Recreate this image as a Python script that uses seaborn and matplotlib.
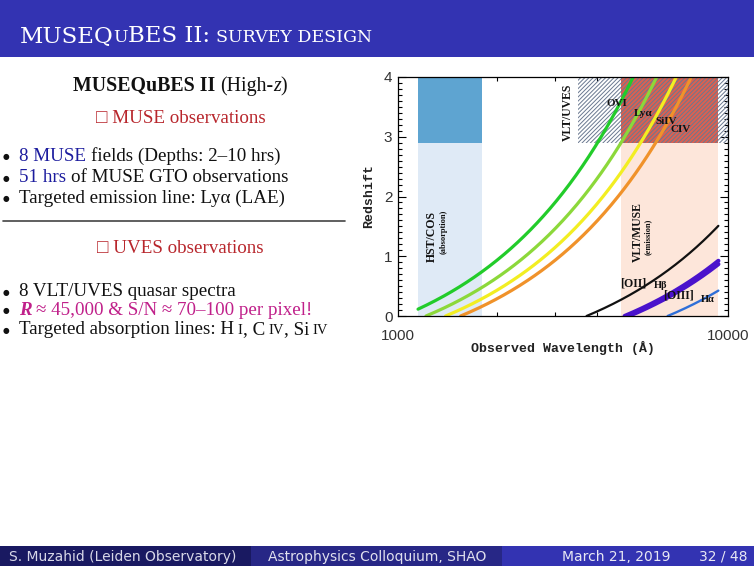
import numpy as np
import pandas as pd
import matplotlib
matplotlib.use("Agg")
import matplotlib.pyplot as plt
import matplotlib.ticker as mticker
from matplotlib.patches import Rectangle
import seaborn as sns

# ---------------- data ----------------
line_names = ["OVI", "Lya", "SiIV", "CIV", "[OII]", "Hb", "[OIII]", "Ha"]
rest_wl = [1031.9, 1215.7, 1393.8, 1548.2, 3727.0, 4861.3, 5006.8, 6562.8]
obs_start = [1150.0, 1215.7, 1393.8, 1548.2, 3727.0, 4861.3, 5006.8, 6562.8]
obs_end = [5160.0, 6080.0, 6970.0, 7745.0, 9350.0, 9350.0, 9350.0, 9350.0]
line_colors = ["#22cc2a", "#8cd83a", "#f2ee22", "#f0922a", "#111111", "#4a12cc", "#4a12cc", "#2f6fd8"]
line_widths = [2.3, 2.3, 2.3, 2.3, 1.6, 3.0, 3.0, 1.7]

# instrument coverage (wavelength range, redshift range)
hst_wl = [1150, 1800]
uves_wl = [3500, 10000]
muse_wl = [4750, 9350]
z_split = 2.9
z_top = 4.0

x_ticks = [1000, 10000]
x_ticklabels = ["1000", "10000"]
y_ticks = [0, 1, 2, 3, 4]

W, H = 754, 566
sns.set_theme(style="white")
plt.rcParams["hatch.linewidth"] = 0.7
plt.rcParams["font.family"] = ["Liberation Serif", "DejaVu Serif", "DejaVu Sans"]

fig = plt.figure(figsize=(W / 100, H / 100), dpi=100)
fig.patch.set_facecolor("white")

def fx(x):
    return x / W

def fy(y):
    return 1 - y / H

# ---------------- header / footer bands ----------------
fig.patches.append(Rectangle((0, fy(57)), 1, 57 / H, transform=fig.transFigure,
                             facecolor="#3333b2", edgecolor="none", zorder=0))
foot_h = 20
foot_cols = ["#191961", "#272786", "#3333b2"]
foot_x = [0, 251, 502, 754]
for i in range(3):
    fig.patches.append(Rectangle((fx(foot_x[i]), 0), (foot_x[i + 1] - foot_x[i]) / W, foot_h / H,
                                 transform=fig.transFigure, facecolor=foot_cols[i],
                                 edgecolor="none", zorder=0))

# ---------------- chart ----------------
ax = fig.add_axes([fx(398), fy(316), 330 / W, (316 - 77) / H])
ax.set_xscale("log")
ax.set_xlim(1000, 10000)
ax.set_ylim(0, 4)

# coverage regions
ax.fill_between(hst_wl, 0, z_split, color="#dfeaf6", lw=0, zorder=1)
ax.fill_between(hst_wl, z_split, z_top, color="#5ea4d1", lw=0, zorder=1)
ax.fill_between(muse_wl, 0, z_split, color="#fde6da", lw=0, zorder=1)
ax.fill_between(muse_wl, z_split, z_top, color="#dc6050", lw=0, zorder=1)
ax.fill_between(uves_wl, z_split, z_top, facecolor="none", edgecolor="#6a7890",
                hatch="////////", lw=0, zorder=2)

# redshift tracks
rows = []
for name, lam0, a, b in zip(line_names, rest_wl, obs_start, obs_end):
    wl = np.geomspace(a, b, 200)
    rows.append(pd.DataFrame({"wl": wl, "z": wl / lam0 - 1, "line": name}))
df = pd.concat(rows, ignore_index=True)
for name, c, lw in zip(line_names, line_colors, line_widths):
    sns.lineplot(data=df[df["line"] == name], x="wl", y="z", color=c, lw=lw,
                 ax=ax, legend=False, zorder=3, sort=False)

# axes cosmetics
for s in ax.spines.values():
    s.set_color("black")
    s.set_linewidth(0.9)
    s.set_zorder(5)
ax.set_xticks(x_ticks)
ax.set_xticklabels(x_ticklabels)
ax.xaxis.set_minor_locator(mticker.LogLocator(base=10, subs=np.arange(2, 10)))
ax.xaxis.set_minor_formatter(mticker.NullFormatter())
ax.set_yticks(y_ticks)
ax.yaxis.set_minor_locator(mticker.MultipleLocator(0.1))
ax.tick_params(which="both", direction="in", top=True, right=True, bottom=True, left=True,
               color="black", width=0.8)
ax.tick_params(which="major", length=6)
ax.tick_params(which="minor", length=3)
ax.tick_params(axis="x", which="major", pad=9, length=0)
ax.tick_params(axis="y", which="major", pad=4)
for lab in ax.get_xticklabels() + ax.get_yticklabels():
    lab.set_fontfamily("Liberation Sans")
    lab.set_fontsize(11)
    lab.set_color("#333333")
ax.set_xlabel("Observed Wavelength (Å)", fontfamily="Liberation Mono", fontweight="bold",
              fontsize=9.5, color="#222222")
ax.set_ylabel("Redshift", fontfamily="Liberation Mono", fontweight="bold",
              fontsize=9.5, color="#222222")
ax.xaxis.set_label_coords((563 - 398) / 330, -(348 - 316) / 239)
ax.yaxis.set_label_coords(-(398 - 369) / 330, 0.5)
ax.xaxis.label.set_va("center")
ax.yaxis.label.set_va("center")

def px2data(x, y):
    return 1000 * 10 ** ((x - 398) / 330), (316 - y) / (239 / 4)

lab_kw = dict(fontfamily="Liberation Serif", fontweight="bold", color="#111111",
              ha="center", va="center", zorder=6)
inner_labels = [("OVI", 617, 103, 8), ("Ly\u03b1", 643, 113, 8), ("SiIV", 666, 121, 8),
                ("CIV", 681, 130, 8), ("[OII]", 633, 284, 8.5), ("H\u03b2", 661, 285, 7.5),
                ("[OIII]", 678, 296, 8.5), ("H\u03b1", 708, 299, 7.5)]
for s, x, y, fs in inner_labels:
    ax.text(*px2data(x, y), s, fontsize=fs, **lab_kw)

rot_labels = [("VLT/UVES", 568, 112, 8.5), ("HST/COS", 432, 236, 8.5), ("(absorption)", 443.5, 232, 6),
              ("VLT/MUSE", 638, 232, 8.5), ("(emission)", 648, 237, 6)]
for s, x, y, fs in rot_labels:
    ax.text(*px2data(x, y), s, fontsize=fs, rotation=90, **lab_kw)

# ---------------- rich text helper ----------------
fig.canvas.draw()
R = fig.canvas.get_renderer()

def measure(s, kw):
    t1 = fig.text(0, 0, "|" + s + "|", **kw)
    t2 = fig.text(0, 0, "||", **kw)
    w = t1.get_window_extent(R).width - t2.get_window_extent(R).width
    t1.remove()
    t2.remove()
    return w

def rich(x, y, pieces, ha="left"):
    widths = [measure(s, kw) for s, kw in pieces]
    total = sum(widths)
    if ha == "center":
        x = x - total / 2
    for (s, kw), w in zip(pieces, widths):
        lead = len(s) - len(s.lstrip(" "))
        xo = x + (measure(" " * lead, kw) if lead else 0)
        if s.strip():
            fig.text(fx(xo), fy(y), s.strip(), ha="left", va="baseline", **kw)
        x += w

# header title (small caps emulation)
hfam = ["DejaVu Serif"]
big = dict(fontsize=16.5, color="white", family=hfam)
small = dict(fontsize=12.5, color="white", family=hfam)
rich(20, 42.5, [("MUSEQ", big), ("U", small), ("BES II:", big), (" SURVEY DESIGN", small)])

# left panel
fs = 13.7
blk = dict(fontsize=fs, color="#111111")
blue = dict(fontsize=fs, color="#1c1c9e")
red = dict(fontsize=fs, color="#b8262c", family=["Liberation Serif", "DejaVu Sans"])
mag = dict(fontsize=fs, color="#c0208a")
magb = dict(fontsize=fs, color="#c0208a", fontweight="bold", fontstyle="italic")
sm = dict(fontsize=10.5, color="#111111")

rich(180, 91, [("MUSEQuBES II", dict(fontsize=14.3, color="#111111", fontweight="bold")),
               (" (High-", dict(fontsize=14.3, color="#111111")),
               ("z", dict(fontsize=14.3, color="#111111", fontstyle="italic")),
               (")", dict(fontsize=14.3, color="#111111"))], ha="center")
rich(181, 123, [("\u25a1 MUSE observations", red)], ha="center")

def bullet(y, pieces):
    fig.text(fx(3), fy(y - 1.5), "\u25cf", ha="left", va="baseline", fontsize=5.5, color="#111111",
             family=["DejaVu Sans"])
    rich(19, y, pieces)

bullet(161, [("8 MUSE", blue), (" fields (Depths: 2\u201310 hrs)", blk)])
bullet(182, [("51 hrs", blue), (" of MUSE GTO observations", blk)])
bullet(203, [("Targeted emission line: Ly\u03b1 (LAE)", blk)])

fig.lines.append(plt.Line2D([fx(3), fx(345)], [fy(221), fy(221)], transform=fig.transFigure,
                            color="#444444", lw=1.2))

rich(180, 253, [("\u25a1 UVES observations", red)], ha="center")
bullet(296, [("8 VLT/UVES quasar spectra", blk)])
bullet(315, [("R", magb), (" \u2248 45,000 & S/N \u2248 70\u2013100 per pixel!", mag)])
bullet(334, [("Targeted absorption lines: H", blk), (" I", sm), (", C", blk), (" IV", sm),
             (", Si", blk), (" IV", sm)])

# footer
fkw = dict(fontsize=10, family=["DejaVu Sans"])
rich(123, 561, [("S. Muzahid (Leiden Observatory)", dict(color="#d8d8e8", **fkw))], ha="center")
rich(377, 561, [("Astrophysics Colloquium, SHAO", dict(color="#e0e0ee", **fkw))], ha="center")
rich(616, 561, [("March 21, 2019", dict(color="#e8e8f4", **fkw))], ha="center")
rich(723, 561, [("32 / 48", dict(color="#e8e8f4", **fkw))], ha="center")

fig.savefig("out.png", dpi=100)
